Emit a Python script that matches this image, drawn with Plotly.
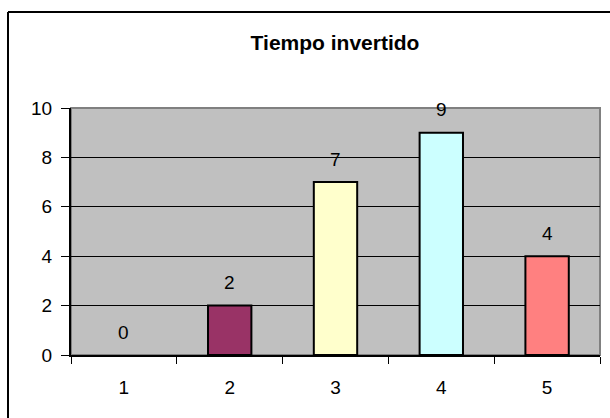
import plotly.graph_objects as go

# Chart data
categories = [1, 2, 3, 4, 5]
values = [0, 2, 7, 9, 4]
bar_colors = ["#9999FF", "#993366", "#FFFFCC", "#CCFFFF", "#FF8080"]
title_text = "Tiempo invertido"
y_ticks = [0, 2, 4, 6, 8, 10]

FONT = "Liberation Sans, Arial, sans-serif"

W, H = 610, 418
L, R, T, B = 71, 10, 108, 63
pw, ph = W - L - R, H - T - B

fig = go.Figure()
fig.add_trace(go.Bar(
    x=categories,
    y=values,
    width=0.41,
    marker=dict(
        color=bar_colors,
        line=dict(color="black", width=[0 if v == 0 else 2 for v in values]),
    ),
    hoverinfo="skip",
))

# Value labels above each bar
for c, v in zip(categories, values):
    fig.add_annotation(x=c, y=v, text=str(v), showarrow=False, yshift=23,
                       font=dict(family=FONT, size=19, color="black"))

# Outer chart border: left and top edges
bx0 = (8 - L) / pw
by1 = 1 + (T - 12) / ph
fig.add_shape(type="line", xref="paper", yref="paper",
              x0=bx0, x1=bx0, y0=-(B + 20) / ph, y1=by1,
              line=dict(color="black", width=2), layer="above")
fig.add_shape(type="line", xref="paper", yref="paper",
              x0=bx0, x1=1 + (R + 20) / pw, y0=by1, y1=by1,
              line=dict(color="black", width=2), layer="above")

# Plot-area frame (top and right edges)
fig.add_shape(type="rect", xref="paper", yref="paper", x0=0, x1=1, y0=0, y1=1,
              line=dict(color="#808080", width=2), layer="below")

fig.update_layout(
    width=W, height=H,
    margin=dict(l=L, r=R, t=T, b=B),
    paper_bgcolor="white",
    plot_bgcolor="#C0C0C0",
    showlegend=False,
    title=dict(text="<b>" + title_text + "</b>", x=(335 / W), xanchor="center",
               y=1 - 43 / H, yanchor="middle",
               font=dict(family=FONT, size=21, color="black")),
    font=dict(family=FONT, size=19, color="black"),
)

fig.update_xaxes(
    range=[0.5, 5.5],
    tickvals=categories,
    ticktext=[str(c) for c in categories],
    ticks="",
    minor=dict(tickvals=[c - 0.5 for c in categories] + [categories[-1] + 0.5],
               ticks="outside", ticklen=7, tickcolor="black", tickwidth=1,
               showgrid=False),
    showline=True, linecolor="black", linewidth=2,
    showgrid=False, zeroline=False,
    tickfont=dict(family=FONT, size=19, color="black"),
    ticklabelstandoff=14,
)
fig.update_yaxes(
    range=[0, 10],
    tickvals=y_ticks,
    ticks="outside", ticklen=8, tickcolor="black", tickwidth=1,
    showline=True, linecolor="black", linewidth=2,
    showgrid=True, gridcolor="black", gridwidth=1,
    zeroline=False,
    ticklabelstandoff=5,
    tickfont=dict(family=FONT, size=19, color="black"),
)

fig.write_html("out.html")
